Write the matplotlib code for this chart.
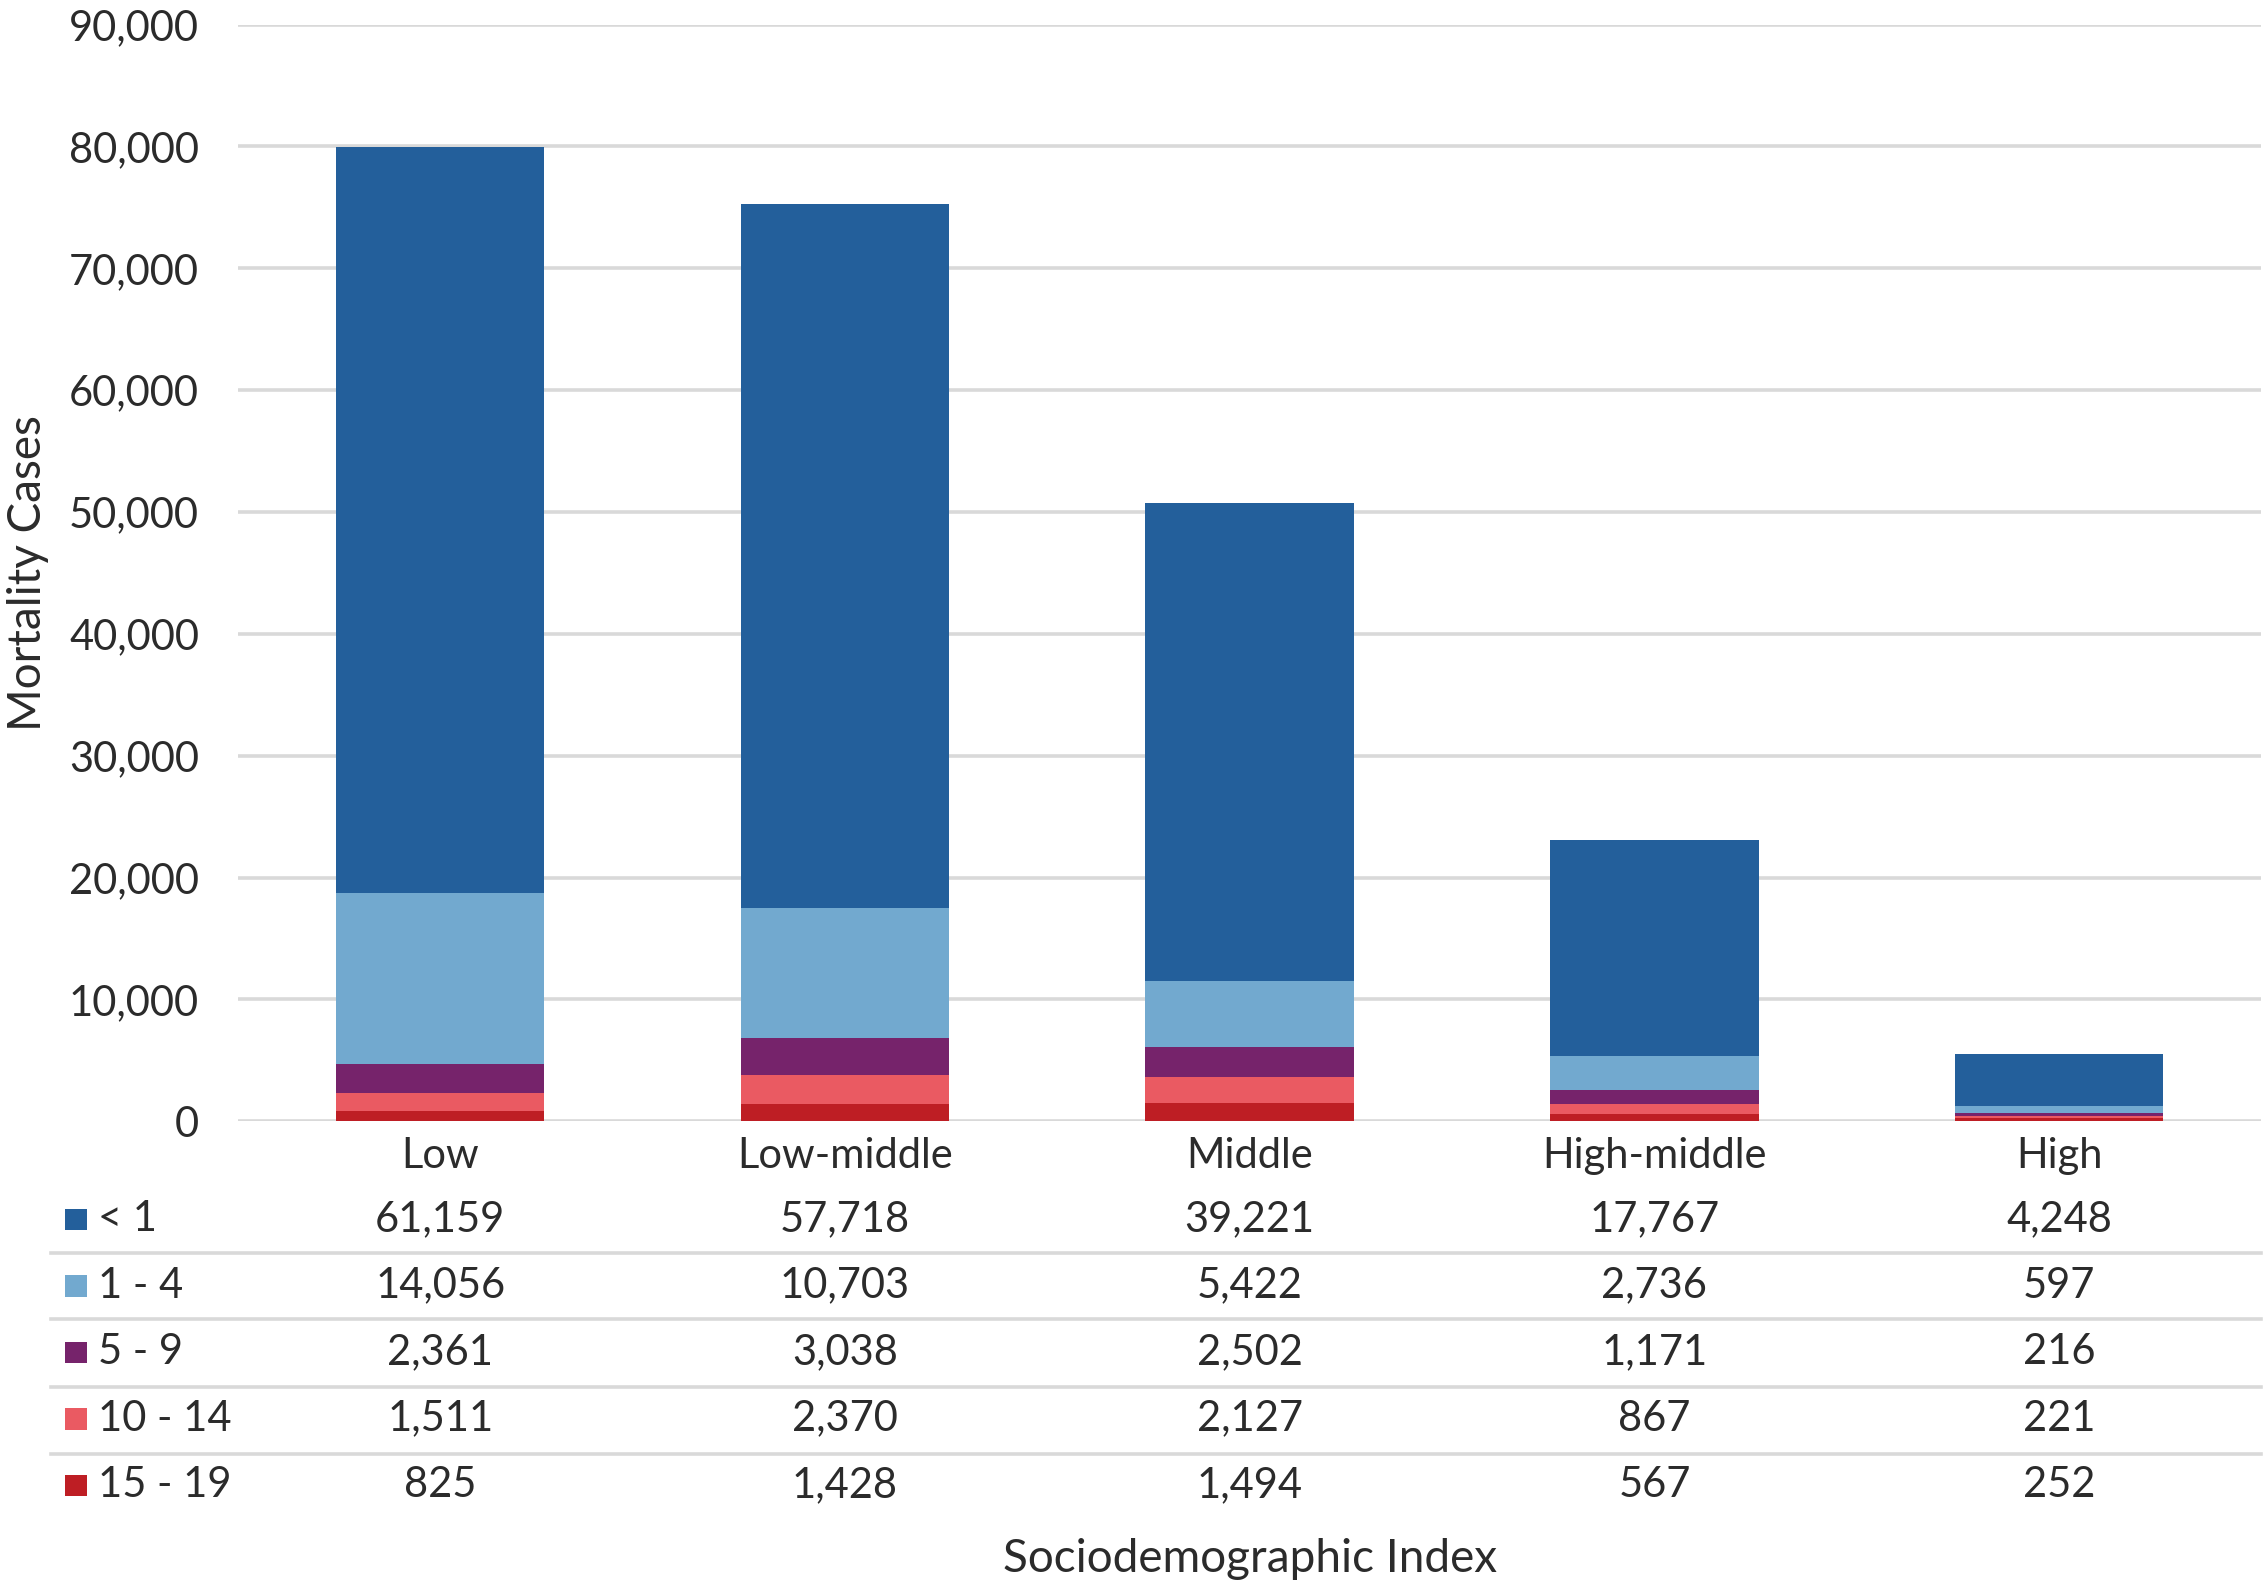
import matplotlib
matplotlib.use("Agg")
import matplotlib.pyplot as plt
from matplotlib.patches import Rectangle
from matplotlib.lines import Line2D
import matplotlib.transforms as mtransforms
from matplotlib.ticker import FuncFormatter

# ---- data ----
categories = ["Low", "Low-middle", "Middle", "High-middle", "High"]
age_groups = ["< 1", "1 - 4", "5 - 9", "10 - 14", "15 - 19"]
under_1 = [61159, 57718, 39221, 17767, 4248]
age_1_4 = [14056, 10703, 5422, 2736, 597]
age_5_9 = [2361, 3038, 2502, 1171, 216]
age_10_14 = [1511, 2370, 2127, 867, 221]
age_15_19 = [825, 1428, 1494, 567, 252]
y_ticks = [0, 10000, 20000, 30000, 40000, 50000, 60000, 70000, 80000, 90000]

series = [under_1, age_1_4, age_5_9, age_10_14, age_15_19]
colors = ["#235F9B", "#72A9CF", "#76236B", "#EA5A62", "#BE1E24"]

plt.rcParams['font.family'] = ['Lato', 'DejaVu Sans']
text_color = "#2b2b2b"
grid_color = "#D9D9D9"
fs = 15
fs_title = 16.5

fig = plt.figure(figsize=(11.33, 7.955), dpi=200)
ax = fig.add_axes([0.105, 0.2952, 0.893, 0.6894])

x = list(range(len(categories)))
# stack from bottom: 15-19, 10-14, 5-9, 1-4, <1
bottom = [0] * len(categories)
for vals, col in zip(series[::-1], colors[::-1]):
    ax.bar(x, vals, width=0.515, bottom=bottom, color=col, linewidth=0, zorder=3)
    bottom = [b + v for b, v in zip(bottom, vals)]

ax.set_xlim(-0.5, len(categories) - 0.5)
ax.set_ylim(0, 90000)
ax.set_yticks(y_ticks)
ax.yaxis.set_major_formatter(FuncFormatter(lambda v, p: f"{int(v):,}"))
ax.grid(axis='y', color=grid_color, linewidth=1.3, zorder=0)
for s in ax.spines.values():
    s.set_visible(False)
ax.tick_params(axis='y', length=0, labelsize=fs, labelcolor=text_color, pad=14)
ax.tick_params(axis='x', length=0)
ax.set_xticks(x)
ax.set_xticklabels([])

# blended transform: x in data, y in figure
trans = mtransforms.blended_transform_factory(ax.transData, fig.transFigure)

# category labels
for xi, c in zip(x, categories):
    fig.text(xi, 0.2736, c, transform=trans, ha='center', va='center',
             fontsize=fs, color=text_color)

# table rows
row_y = [0.2336, 0.1919, 0.1501, 0.1083, 0.0665]
sep_y = [0.2125, 0.1708, 0.1281, 0.0863]
for yy in sep_y:
    fig.add_artist(Line2D([0.0223, 0.998], [yy, yy], transform=fig.transFigure,
                          color=grid_color, linewidth=1.3))

for ry, label, vals, col in zip(row_y, age_groups, series, colors):
    fig.add_artist(Rectangle((0.0287, ry - 0.0070), 0.0096, 0.0137,
                             transform=fig.transFigure, facecolor=col,
                             edgecolor='none'))
    fig.text(0.0434, ry, label, ha='left', va='center', fontsize=fs,
             color=text_color)
    for xi, v in zip(x, vals):
        fig.text(xi, ry, f"{v:,}", transform=trans, ha='center', va='center',
                 fontsize=fs, color=text_color)

# axis titles
fig.text(0.5515, 0.0200, "Sociodemographic Index", ha='center', va='center',
         fontsize=fs_title, color=text_color)
fig.text(0.0125, 0.6395, "Mortality Cases", ha='center', va='center',
         rotation=90, fontsize=fs_title, color=text_color)

fig.savefig("out.png", dpi=200)
